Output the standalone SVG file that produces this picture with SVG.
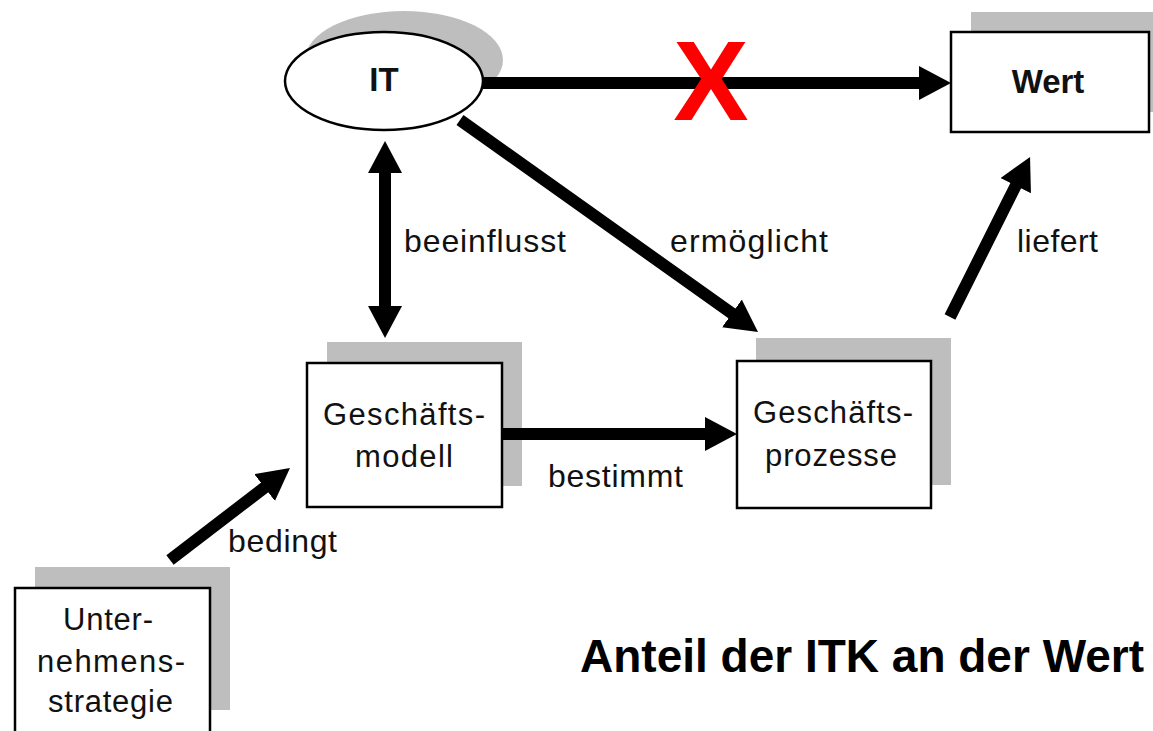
<svg xmlns="http://www.w3.org/2000/svg" width="1153" height="731" viewBox="0 0 1153 731">
<style>
.shadow{fill:#bebebe;stroke:none}
.box{fill:#fff;stroke:#000;stroke-width:2.5}
.ntext{font-family:"Liberation Sans",Arial,sans-serif;font-size:31px;fill:#111}
.btext{font-family:"Liberation Sans",Arial,sans-serif;font-size:33px;font-weight:bold;fill:#111;text-anchor:middle}
.lbl{font-family:"Liberation Sans",Arial,sans-serif;font-size:32px;fill:#111}
.conn{fill:none;stroke:#000;stroke-width:12}
</style>
<defs>
<marker id="ah" markerUnits="userSpaceOnUse" markerWidth="32" markerHeight="34" refX="12" refY="17" orient="auto-start-reverse" viewBox="0 0 32 34">
<path d="M0,0 L32,17 L0,34 z" fill="#000"/>
</marker>
</defs>
<rect width="1153" height="731" fill="#fff"/>

<g id="node-it">
<ellipse class="shadow" cx="404" cy="60" rx="99" ry="49"/>
<ellipse class="box" cx="384" cy="81" rx="99" ry="49" stroke-width="2"/>
<text class="btext" x="384" y="91">IT</text>
</g>

<g id="node-wert">
<rect class="shadow" x="971" y="12" width="198" height="100"/>
<rect class="box" x="951" y="32" width="198" height="100"/>
<text class="btext" x="1048" y="93">Wert</text>
</g>

<g id="node-geschaeftsmodell">
<rect class="shadow" x="327" y="342" width="195" height="144"/>
<rect class="box" x="307" y="363" width="195" height="144"/>
<text class="ntext" x="323" y="425" textLength="162" lengthAdjust="spacing">Geschäfts-</text>
<text class="ntext" x="355" y="467" textLength="98" lengthAdjust="spacing">modell</text>
</g>

<g id="node-geschaeftsprozesse">
<rect class="shadow" x="756" y="338" width="195" height="147"/>
<rect class="box" x="737" y="361" width="194" height="147"/>
<text class="ntext" x="753" y="423" textLength="160" lengthAdjust="spacing">Geschäfts-</text>
<text class="ntext" x="765" y="466" textLength="132" lengthAdjust="spacing">prozesse</text>
</g>

<g id="node-unternehmensstrategie">
<rect class="shadow" x="35" y="567" width="195" height="143"/>
<rect class="box" x="15" y="588" width="195" height="145"/>
<text class="ntext" x="63" y="630" textLength="90" lengthAdjust="spacing">Unter-</text>
<text class="ntext" x="37" y="672" textLength="148" lengthAdjust="spacing">nehmens-</text>
<text class="ntext" x="48" y="712" textLength="125" lengthAdjust="spacing">strategie</text>
</g>

<g id="connectors">
<path class="conn" d="M483,83 L931,83" marker-end="url(#ah)"/>
<path class="conn" d="M385,161 L385,318" stroke-width="13" marker-start="url(#ah)" marker-end="url(#ah)"/>
<path class="conn" d="M460,120 L741.7,320.4" marker-end="url(#ah)"/>
<path class="conn" d="M950,317 L1021.1,174.9" marker-end="url(#ah)"/>
<path class="conn" d="M502,434 L717,434" stroke-width="13" marker-end="url(#ah)"/>
<path class="conn" d="M170,560 L274.1,480.2" marker-end="url(#ah)"/>
<text x="711" y="120" font-family="Liberation Sans,Arial,sans-serif" font-weight="bold" font-size="113" fill="#ff0000" text-anchor="middle">X</text>
<text class="lbl" x="404" y="252" textLength="162" lengthAdjust="spacing">beeinflusst</text>
<text class="lbl" x="670" y="252" textLength="158" lengthAdjust="spacing">ermöglicht</text>
<text class="lbl" x="1017" y="252" textLength="81" lengthAdjust="spacing">liefert</text>
<text class="lbl" x="548" y="487" textLength="135" lengthAdjust="spacing">bestimmt</text>
<text class="lbl" x="228" y="552" textLength="109" lengthAdjust="spacing">bedingt</text>
</g>

<text x="580" y="672" font-family="Liberation Sans,Arial,sans-serif" font-weight="bold" font-size="46" fill="#000">Anteil der ITK an der Wert</text>
</svg>
